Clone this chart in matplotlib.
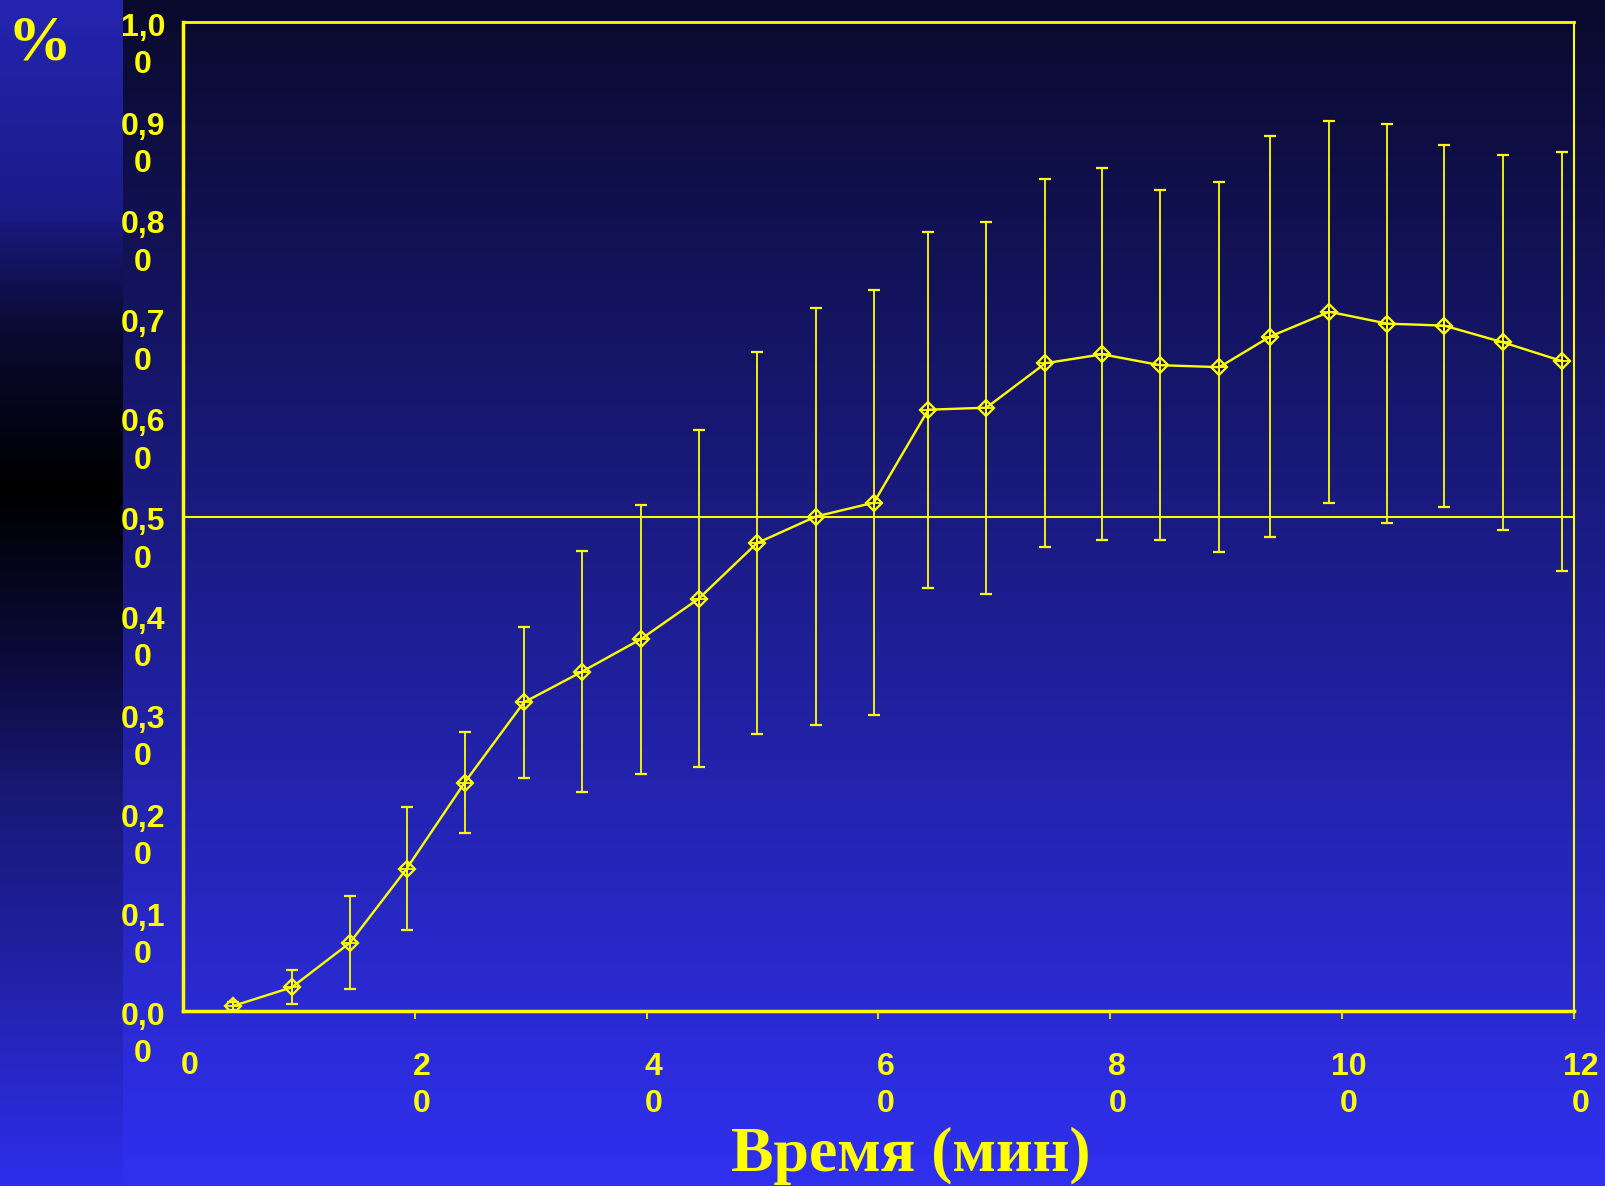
import numpy as np
import matplotlib.pyplot as plt
from matplotlib.transforms import ScaledTranslation

# data
time_min = [4.3, 9.4, 14.4, 19.3, 24.3, 29.4, 34.4, 39.5, 44.5, 49.5, 54.6, 59.6,
            64.3, 69.3, 74.4, 79.3, 84.3, 89.4, 93.8, 98.9, 103.9, 108.8, 113.9, 119.0]
mean_val = [0.005, 0.024, 0.069, 0.144, 0.231, 0.312, 0.343, 0.376, 0.417, 0.473, 0.500, 0.514,
            0.608, 0.610, 0.655, 0.664, 0.653, 0.651, 0.682, 0.707, 0.695, 0.693, 0.676, 0.657]
sd_val = [0.004, 0.017, 0.047, 0.062, 0.051, 0.076, 0.122, 0.136, 0.170, 0.193, 0.211, 0.215,
          0.180, 0.188, 0.186, 0.188, 0.177, 0.187, 0.203, 0.193, 0.202, 0.183, 0.190, 0.212]

y_ticks = [0.0, 0.1, 0.2, 0.3, 0.4, 0.5, 0.6, 0.7, 0.8, 0.9, 1.0]
y_tick_labels = ['0,0\n0', '0,1\n0', '0,2\n0', '0,3\n0', '0,4\n0', '0,5\n0',
                 '0,6\n0', '0,7\n0', '0,8\n0', '0,9\n0', '1,0\n0']
x_ticks = [0, 20, 40, 60, 80, 100, 120]
x_tick_labels = ['0', '2\n0', '4\n0', '6\n0', '8\n0', '10\n0', '12\n0']

YEL = '#ffff00'
W, H = 1606, 1186
fig = plt.figure(figsize=(W / 100, H / 100), dpi=100)

# background gradients
rows = np.arange(H)
main = np.stack([np.interp(rows, [0, H - 1], [10, 48]),
                 np.interp(rows, [0, H - 1], [10, 48]),
                 np.interp(rows, [0, H - 1], [45, 240])], axis=1) / 255
sy = [0, 200, 330, 490, 650, 800, 950, H - 1]
sr = [36, 28, 10, 0, 10, 25, 32, 46]
sb = [176, 140, 50, 0, 55, 120, 160, 236]
strip = np.stack([np.interp(rows, sy, sr), np.interp(rows, sy, sr),
                  np.interp(rows, sy, sb)], axis=1) / 255
img = np.repeat(main[:, None, :], W, axis=1)
img[:, :123] = strip[:, None, :]
bg = fig.add_axes([0, 0, 1, 1])
bg.imshow(img, aspect='auto', extent=[0, 1, 0, 1])
bg.axis('off')

ax = fig.add_axes([183 / W, 1 - 1011 / H, (1574 - 183) / W, (1011 - 22) / H])
ax.patch.set_alpha(0)
ax.set_xlim(0, 120)
ax.set_ylim(0, 1.0)

ax.axhline(0.5, color=YEL, lw=1.5, zorder=1)
ax.errorbar(time_min, mean_val, yerr=sd_val, color=YEL, lw=1.7, elinewidth=1.3,
            capsize=4.2, capthick=1.5, marker='D', ms=8.5, mfc='none', mec=YEL,
            mew=1.6, zorder=3)
ax.plot(time_min, mean_val, '+', color=YEL, ms=10, mew=1.3, zorder=4)

for side, lw in [('left', 2.5), ('bottom', 2.5), ('top', 2.0), ('right', 1.5)]:
    ax.spines[side].set_color(YEL)
    ax.spines[side].set_linewidth(lw)

ax.set_xticks(x_ticks[1:])
ax.set_yticks([])
ax.tick_params(axis='x', direction='out', length=6, width=1.2, color=YEL, labelbottom=False)

LINE_PX = 38.5
tick_font = dict(family='Liberation Sans', weight='bold', size=23, color=YEL, linespacing=1.32)
for x, lab in zip(x_ticks, x_tick_labels):
    n = lab.count('\n')
    tr = ax.get_xaxis_transform() + ScaledTranslation(7 / 100, -(63 + n * LINE_PX) / 100,
                                                      fig.dpi_scale_trans)
    ax.text(x, 0, lab, transform=tr, ha='center', va='baseline', clip_on=False, **tick_font)

for y, lab in zip(y_ticks, y_tick_labels):
    n = lab.count('\n')
    tr = ax.get_yaxis_transform() + ScaledTranslation(-40 / 100, -(12.5 + n * LINE_PX) / 100,
                                                      fig.dpi_scale_trans)
    ax.text(0, y, lab, transform=tr, ha='center', va='baseline', clip_on=False, **tick_font)

fig.text(39.5 / W, 1 - 44 / H, '%', ha='center', va='center', family='Liberation Serif',
         weight='bold', size=46, color=YEL)
fig.text(911 / W, 1 - 1171 / H, 'Время (мин)', ha='center', va='baseline',
         family='Liberation Serif', weight='bold', size=46, color=YEL)

fig.savefig('out.png', dpi=100)
